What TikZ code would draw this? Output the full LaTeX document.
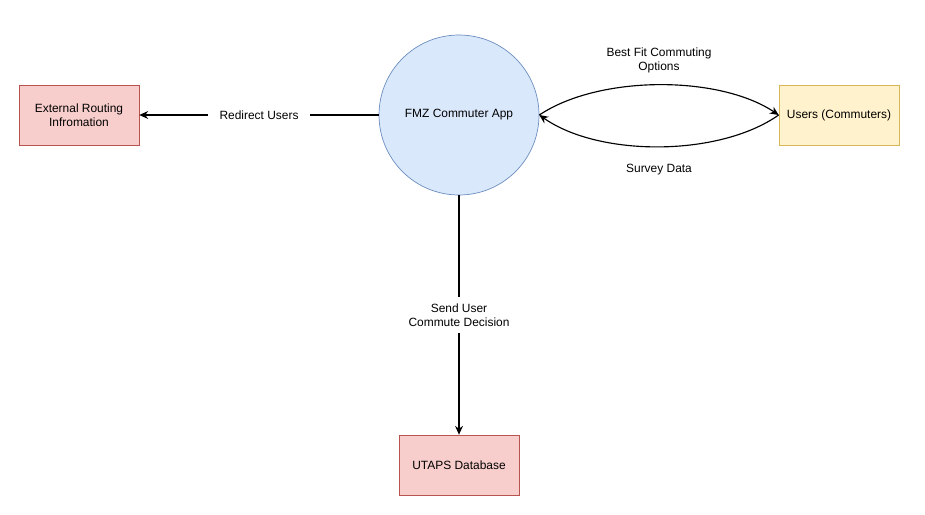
\documentclass[tikz,border=0pt]{standalone}
\usepackage{fontspec}
\setmainfont{Liberation Sans}
\usetikzlibrary{arrows.meta}
\definecolor{redfill}{HTML}{F8CECC}
\definecolor{redline}{HTML}{B85450}
\definecolor{bluefill}{HTML}{DAE8FC}
\definecolor{blueline}{HTML}{6C8EBF}
\definecolor{yellowfill}{HTML}{FFF2CC}
\definecolor{yellowline}{HTML}{D6B656}
\tikzset{
	entity/.style={draw, minimum width=2.4cm, minimum height=1.2cm, align=center, inner sep=0pt},
	flow/.style={-{Stealth[length=5pt,width=4.5pt]}, line width=0.65pt},
	flowlabel/.style={fill=white, align=center, inner xsep=6.5pt, inner ysep=4pt},
}
\begin{document}
\begin{tikzpicture}[x=0.02cm, y=-0.02cm, font=\fontsize{6.8}{8}\selectfont]
			%%%%% START %%%%%
			
			\useasboundingbox[fill=white] (0, 0) rectangle (925, 514);
			
			\node[circle, draw=blueline, fill=bluefill, minimum size=3.2cm, inner sep=0pt] (app) at (459, 115) {FMZ Commuter App};
			
			\node[entity, draw=redline, fill=redfill] (routing) at (79, 115) {External Routing\\Infromation};
			\node[entity, draw=yellowline, fill=yellowfill] (users) at (839, 115) {Users (Commuters)};
			\node[entity, draw=redline, fill=redfill] (utaps) at (459, 465) {UTAPS Database};
			
			\draw[flow] (app.west) -- node[flowlabel] (redirect) {Redirect Users} (routing.east);
			\draw[flow] (app.south) -- node[flowlabel] (send) {Send User\\Commute Decision} (utaps.north);
			
			\draw[flow] (app.east) .. controls (599, 75) and (719, 75) .. (users.west);
			\draw[flow] (users.west) .. controls (719, 157) and (599, 157) .. (app.east);
			
			\node[align=center] (bestfit) at (659, 60) {Best Fit Commuting\\Options};
			\node (survey) at (659, 170) {Survey Data};
			
			%%%%% END %%%%%
		\end{tikzpicture}
\end{document}
